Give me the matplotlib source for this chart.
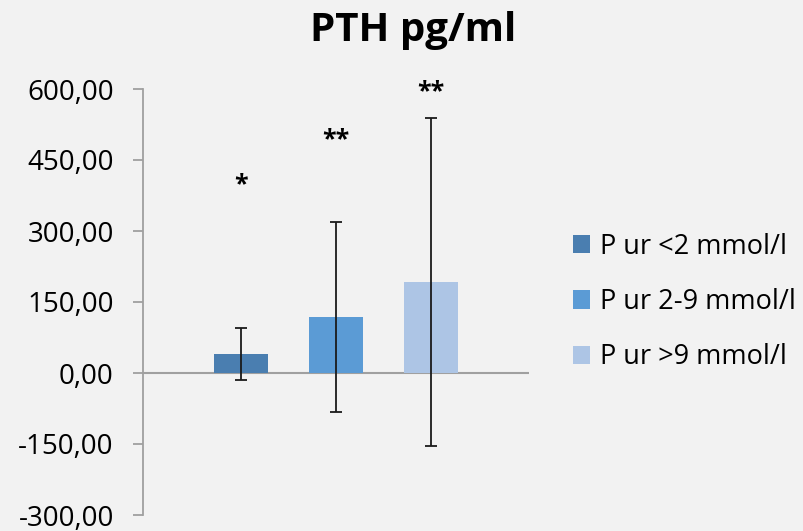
import matplotlib
matplotlib.use("Agg")
import matplotlib.pyplot as plt
from matplotlib.ticker import FuncFormatter

plt.rcParams['font.family'] = ['Open Sans', 'DejaVu Sans']

series = ["P ur <2 mmol/l", "P ur 2-9 mmol/l", "P ur >9 mmol/l"]
means = [40.0, 118.0, 192.0]
errors = [55.0, 201.0, 347.0]
stars = ["*", "**", "**"]
star_y = [398, 492, 595]
colors = ["#4A7EB0", "#5B9BD5", "#ADC5E5"]
yticks = [-300, -150, 0, 150, 300, 450, 600]
title = "PTH pg/ml"

bg = "#F2F2F2"
fig = plt.figure(figsize=(8.04, 5.31), dpi=100, facecolor=bg)
ax = fig.add_axes([143/804, 1-515/531, (529-143)/804, (515-89)/531], facecolor=bg)

xpos = [-1, 0, 1]
for x, m, e, c, lab in zip(xpos, means, errors, colors, series):
    ax.bar(x, m, width=0.57, color=c, label=lab, zorder=2)
    ax.errorbar(x, m, yerr=e, fmt='none', ecolor='#1a1a1a', elinewidth=1.3,
                capsize=4, capthick=1.3, zorder=3)
for x, s, sy in zip(xpos, stars, star_y):
    ax.text(x, sy, s, ha='center', va='center', fontsize=18, fontweight='bold',
            color='black', clip_on=False)

ax.axhline(0, color='#A0A0A0', lw=1.5, zorder=1)
ax.set_xlim(-2.03, 2.03)
ax.set_ylim(-300, 600)
ax.set_yticks(yticks)
ax.yaxis.set_major_formatter(FuncFormatter(lambda v, p: f"{v:.2f}".replace('.', ',')))
ax.set_xticks([])
for s in ['top', 'right', 'bottom']:
    ax.spines[s].set_visible(False)
ax.spines['left'].set_color('#A0A0A0')
ax.spines['left'].set_linewidth(1.3)
ax.tick_params(axis='y', length=7, width=1.3, color='#A0A0A0', labelsize=20,
               pad=14, labelcolor='black')

fig.text(413/804, 1-30/531, title, ha='center', va='center', fontsize=29,
         fontweight='bold')

leg = ax.legend(loc='center left', bbox_to_anchor=(562/804, 1-302/531),
                bbox_transform=fig.transFigure, frameon=False, fontsize=19.5,
                handlelength=0.65, handleheight=0.65, handletextpad=0.35,
                labelspacing=1.0, borderaxespad=0)

fig.savefig("out.png", dpi=100, facecolor=bg)
